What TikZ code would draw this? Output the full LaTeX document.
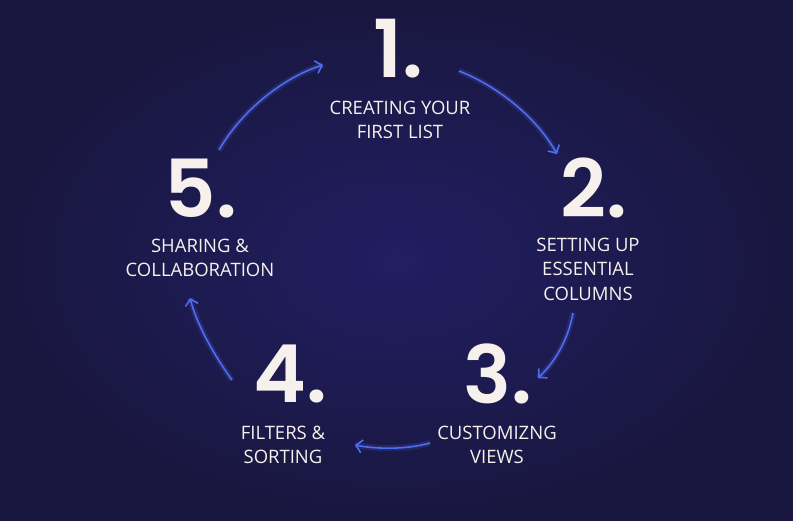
\documentclass[tikz,border=0pt]{standalone}
\usepackage{fontspec}
\setmainfont{Open Sans}
\newfontfamily\numfont{Poppins SemiBold}
\usetikzlibrary{arrows.meta}
\definecolor{bgnavy}{HTML}{19173F}
\definecolor{bgglow}{HTML}{211E62}
\definecolor{chalk}{HTML}{F6F1EC}
\definecolor{loopblue}{HTML}{4E6DF0}

\begin{document}
\begin{tikzpicture}[x=1pt,y=-1pt,
    stepnum/.style={text=chalk,inner sep=0pt,text depth=0pt,
      font=\numfont\fontsize{80}{80}\selectfont},
    steptext/.style={text=chalk,inner sep=0pt,align=center,
      font=\fontsize{18.5}{24.5}\selectfont},
    loop/.style={draw=loopblue,line width=1.6pt,
      -{Straight Barb[length=6pt,width=13pt]},
      preaction={draw=loopblue,opacity=0.18,line width=6pt,-}}]
      % background
      \shade[inner color=bgglow,outer color=bgnavy] (0,0) rectangle (793,520);
      \useasboundingbox (0,0) rectangle (793,520);

      % steps
      \node[stepnum] (n1) at (398,48) {1.};
      \node[steptext] (t1) at (400,120) {CREATING YOUR\\FIRST LIST};
      \node[stepnum] (n2) at (594,188) {2.};
      \node[steptext] (t2) at (588,269) {SETTING UP\\ESSENTIAL\\COLUMNS};
      \node[stepnum] (n3) at (498,374) {3.};
      \node[steptext] (t3) at (497,445) {CUSTOMIZNG\\VIEWS};
      \node[stepnum] (n4) at (290,374) {4.};
      \node[steptext] (t4) at (283,445) {FILTERS \&\\SORTING};
      \node[stepnum] (n5) at (201,188) {5.};
      \node[steptext] (t5) at (200,258) {SHARING \&\\COLLABORATION};

      % arrow ends
      \coordinate (a1s) at (459,71);  \coordinate (a1e) at (557,154);
      \coordinate (a2s) at (573,313); \coordinate (a2e) at (538,378);
      \coordinate (a3s) at (430,443); \coordinate (a3e) at (355,445);
      \coordinate (a4s) at (232,380); \coordinate (a4e) at (190,298);
      \coordinate (a5s) at (219,150); \coordinate (a5e) at (323,65);

      \draw[loop] (a1s) .. controls (495,85) and (535,115) .. (a1e);
      \draw[loop] (a2s) .. controls (568,340) and (555,362) .. (a2e);
      \draw[loop] (a3s) .. controls (405,450) and (375,449) .. (a3e);
      \draw[loop] (a4s) .. controls (214,355) and (197,325) .. (a4e);
      \draw[loop] (a5s) .. controls (245,105) and (290,75) .. (a5e);
    \end{tikzpicture}
\end{document}
